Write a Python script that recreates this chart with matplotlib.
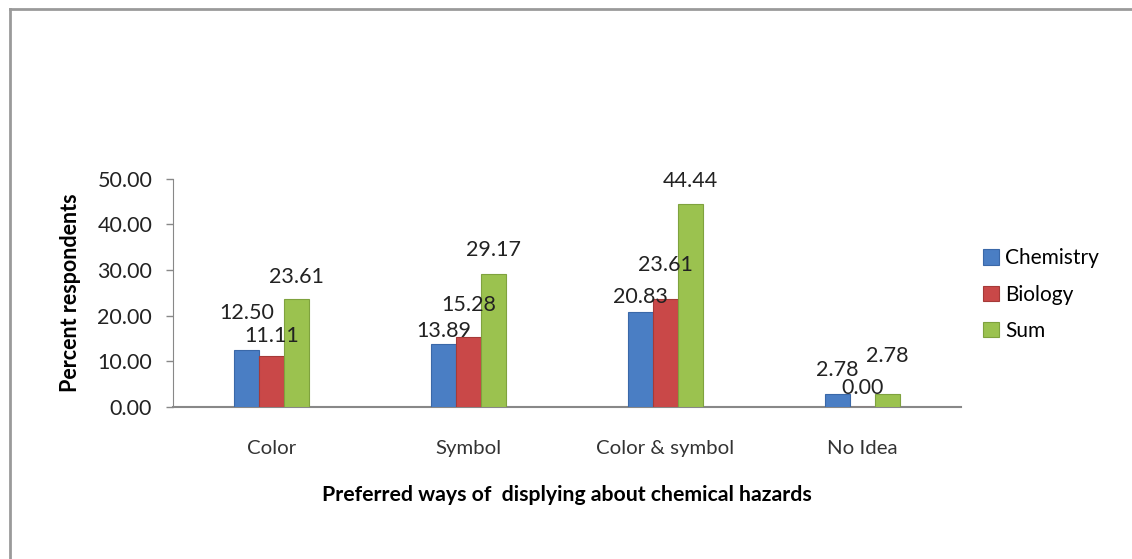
import matplotlib
matplotlib.use("Agg")
import matplotlib.pyplot as plt
from matplotlib.lines import Line2D
import numpy as np

categories = ["Color", "Symbol", "Color & symbol", "No Idea"]
series_names = ["Chemistry", "Biology", "Sum"]
chemistry = [12.50, 13.89, 20.83, 2.78]
biology = [11.11, 15.28, 23.61, 0.00]
total = [23.61, 29.17, 44.44, 2.78]
yticks = [0, 10, 20, 30, 40, 50]

colors = ["#4A7EC4", "#C94848", "#9BC24F"]
edge_colors = ["#3A68A8", "#A53A38", "#7FA23E"]
# label vertical offsets (points above bar top) per series, per category
label_nudge = [
    [19.5, 2.2, 3.7, 10.5],
    [7.7, 15.7, 17.7, 6.7],
    [8.7, 9.7, 9.7, 20.7],
]

plt.rcParams["font.family"] = ["Lato", "DejaVu Sans"]
fig = plt.figure(figsize=(11.32, 5.59), dpi=100)
ax = fig.add_axes([173 / 1132, 0.272, 788 / 1132, 0.408])

x = np.arange(len(categories))
w = 0.126
data = [chemistry, biology, total]
for i, (vals, c, ec) in enumerate(zip(data, colors, edge_colors)):
    pos = x + (i - 1) * w
    ax.bar(pos, vals, width=w, color=c, edgecolor=ec, linewidth=0.8, label=series_names[i], zorder=3)
    for j, (p, v) in enumerate(zip(pos, vals)):
        ax.annotate(f"{v:.2f}", (p, v), xytext=(0, label_nudge[i][j]), textcoords="offset points",
                    ha="center", va="bottom", fontsize=15.5, color="#222222", zorder=6)

ax.set_xlim(-0.5, len(categories) - 0.5)
ax.set_ylim(0, 50)
ax.set_yticks(yticks)
ax.set_yticklabels([f"{t:.2f}" for t in yticks], fontsize=15.5, color="#222222")
ax.set_xticks(x)
ax.set_xticklabels(categories, fontsize=14.7, color="#333333")
ax.tick_params(axis="x", length=0, pad=24)
ax.tick_params(axis="y", length=5, width=1, color="#888888", direction="out", pad=10)
for s in ["top", "right"]:
    ax.spines[s].set_visible(False)
ax.spines["left"].set_color("#888888")
ax.spines["bottom"].set_color("#888888")
ax.spines["bottom"].set_linewidth(1.5)

ax.set_ylabel("Percent respondents", fontsize=15.5, fontweight="bold", labelpad=12)
ax.set_xlabel("Preferred ways of  displying about chemical hazards", fontsize=15.3,
              fontweight="bold", labelpad=20)

ax.legend(loc="center left", bbox_to_anchor=(1.015, 0.493), frameon=False, fontsize=15,
          handlelength=0.75, handleheight=0.75, handletextpad=0.3, labelspacing=0.78,
          borderpad=0)

# outer frame (top and left edges visible)
fig.add_artist(Line2D([10 / 1132, 1.0], [1 - 9 / 559, 1 - 9 / 559], transform=fig.transFigure,
                      color="#9A9A9A", linewidth=2))
fig.add_artist(Line2D([10 / 1132, 10 / 1132], [0.0, 1 - 9 / 559], transform=fig.transFigure,
                      color="#9A9A9A", linewidth=2))

fig.savefig("out.png", dpi=100, facecolor="white")
